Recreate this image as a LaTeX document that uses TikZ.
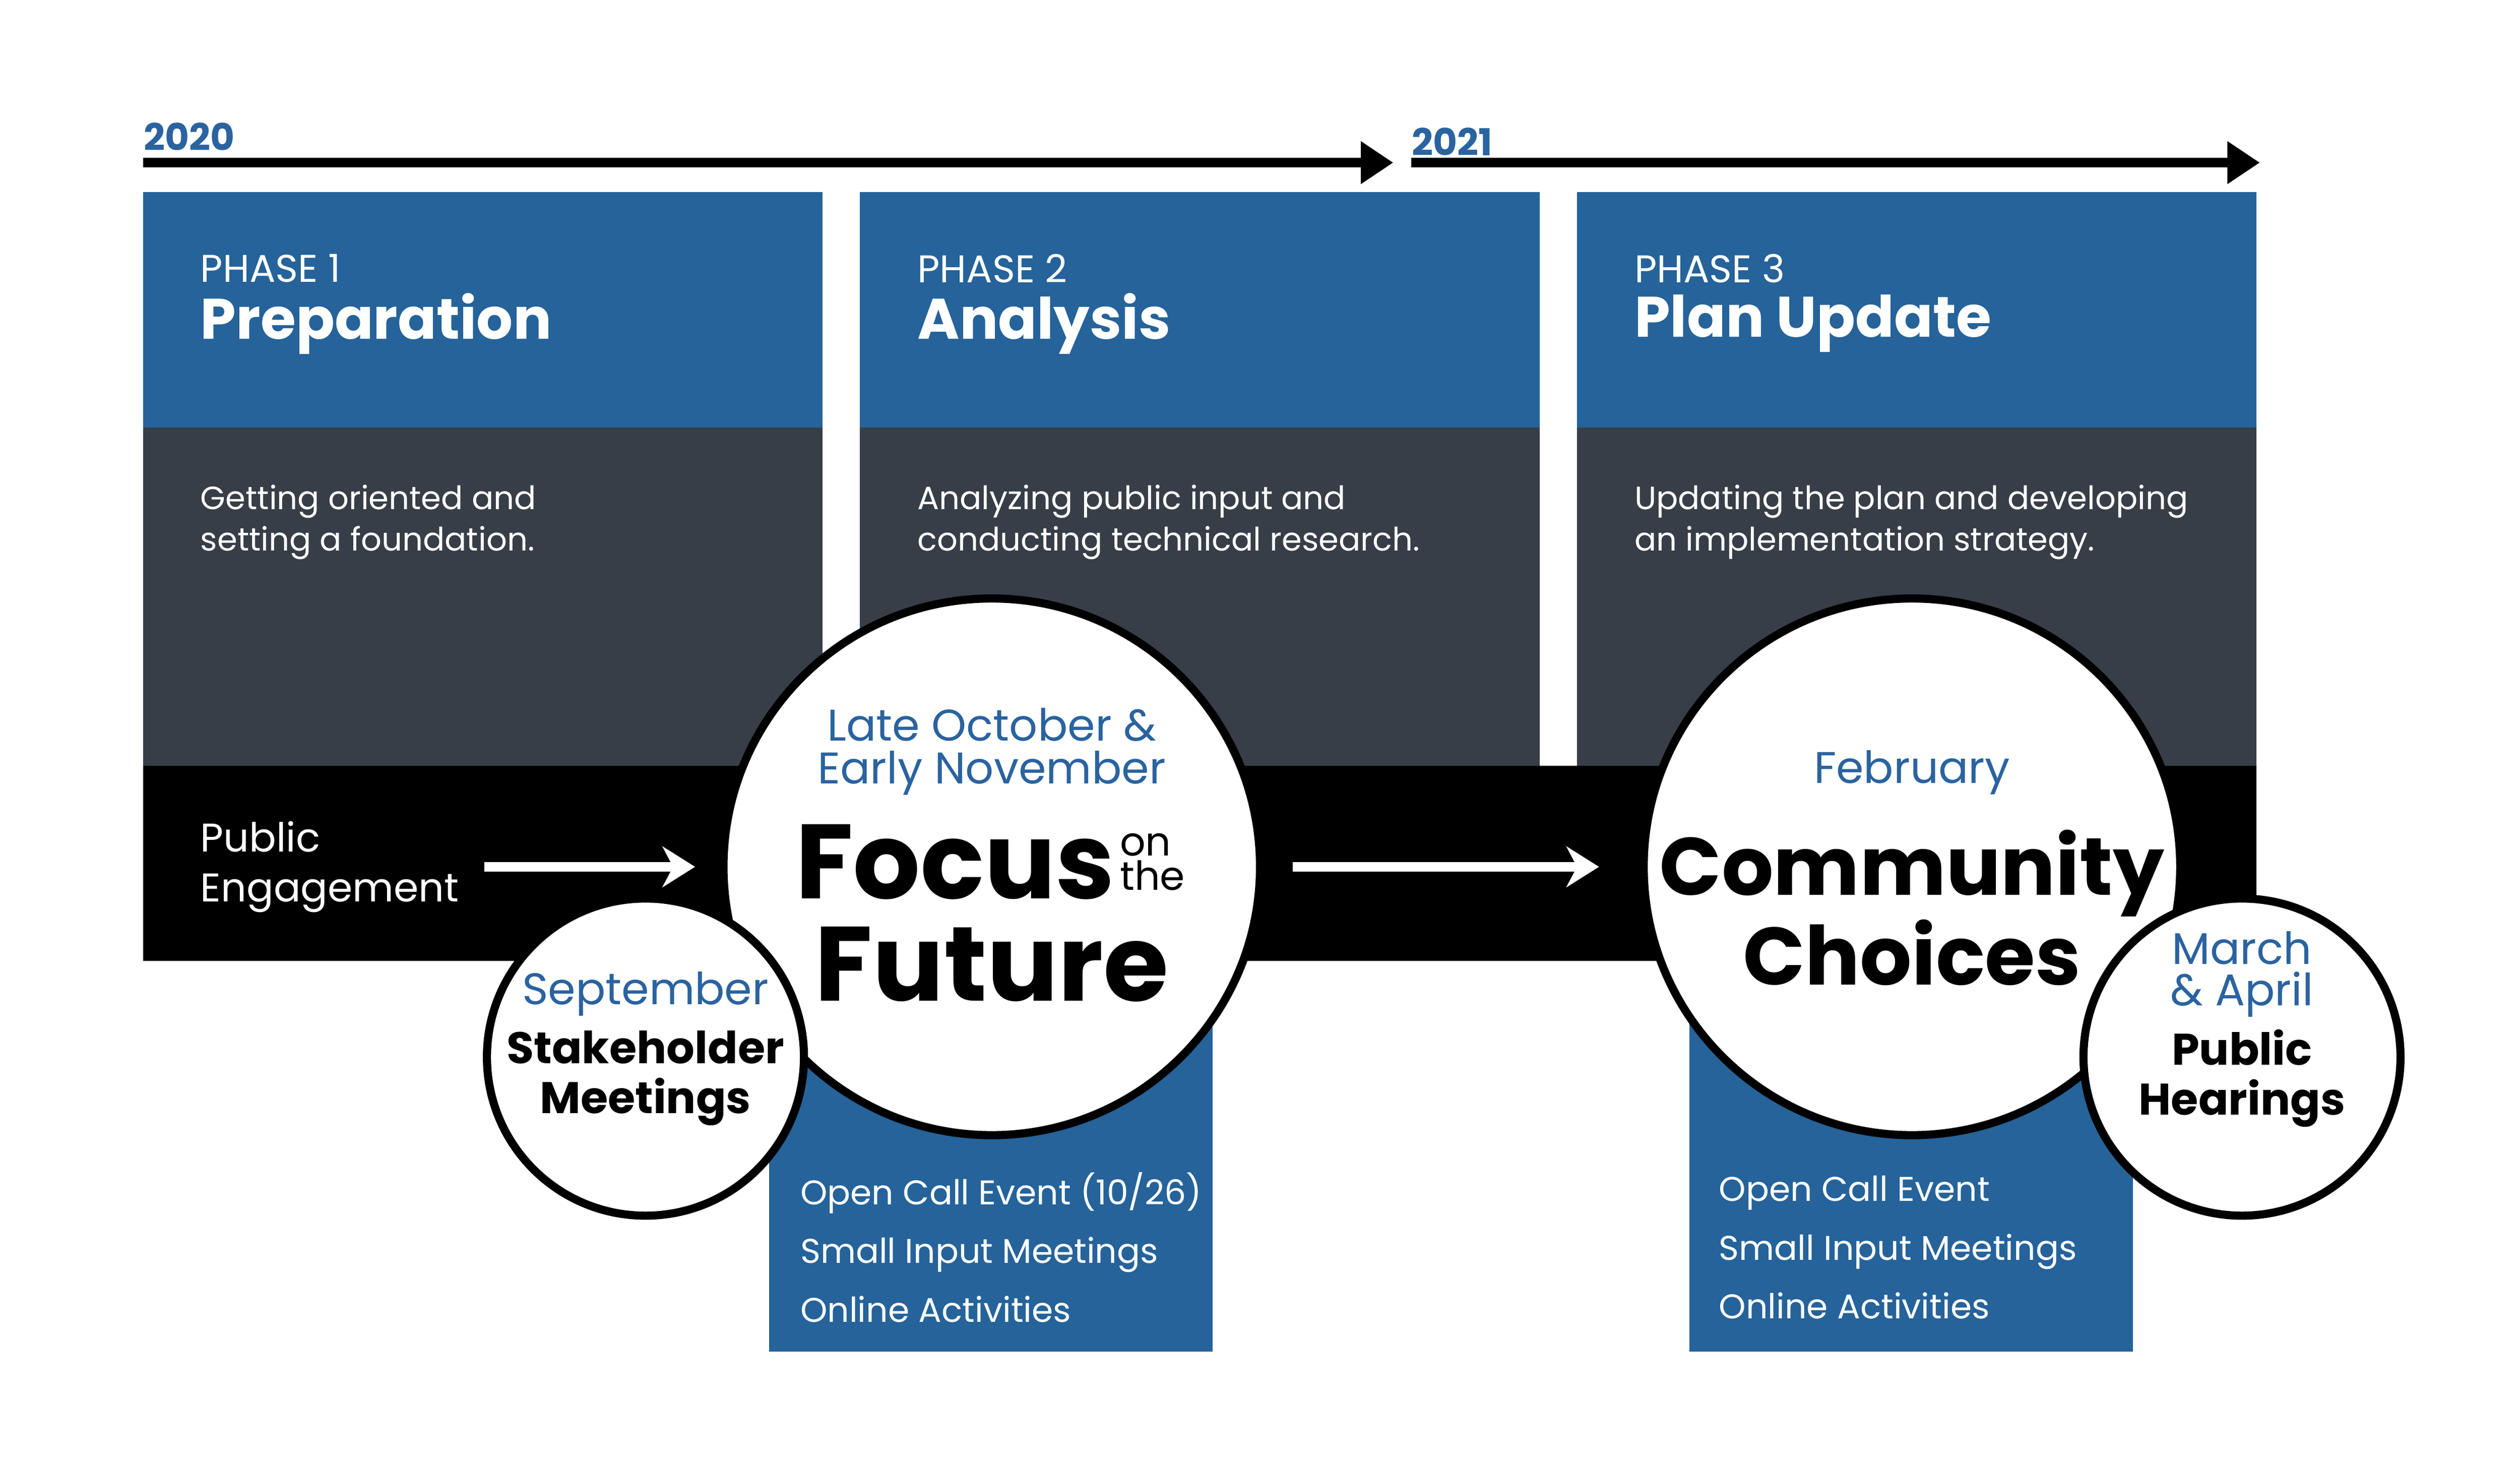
\documentclass[tikz,border=0pt]{standalone}
\usepackage{fontspec}
\setmainfont{Poppins}
\usetikzlibrary{arrows.meta,positioning}
\definecolor{phaseblue}{HTML}{25639A}
\definecolor{slate}{HTML}{373E47}
\definecolor{datetext}{HTML}{2A63A0}
\begin{document}
\begin{tikzpicture}[x=0.2mm,y=-0.2mm]

  \tikzset{band/.style={draw=none, anchor=north west, inner sep=0pt}, }
  \tikzset{phase text/.style={anchor=west, text=white, align=left, inner sep=0pt}, }
  \tikzset{big circle/.style={circle, draw, line width=1mm, fill=white,
  		minimum size=66mm, inner sep=0pt}, }
  \tikzset{small circle/.style={circle, draw, line width=1mm, fill=white,
  		minimum size=39mm, inner sep=0pt}, }
  \tikzset{linea/.style={-{Triangle[length=4mm,width=5mm]}, line width=1.2mm}, }
  \tikzset{flow/.style={white, line width=1.2mm, -{Stealth[length=4mm,width=5mm]}}, }

  \useasboundingbox[fill=white] (0,0) rectangle (1550,897);

  % timeline
  \node[anchor=south west, inner sep=0pt, text=datetext, font=\bfseries\fontsize{13}{16}\selectfont] (y1) at (88,93) {2020};
  \node[anchor=south west, inner sep=0pt, text=datetext, font=\bfseries\fontsize{13}{16}\selectfont] (y2) at (868,96) {2021};
  \coordinate (t1s) at (88,100);
  \coordinate (t1e) at (857,100);
  \coordinate (t2s) at (868,100);
  \coordinate (t2e) at (1390,100);
  \draw[linea] (t1s) -- (t1e);
  \draw[linea] (t2s) -- (t2e);

  % phase columns
  \foreach \x/\n/\t/\da/\db in {88/1/Preparation/Getting oriented and/setting a foundation.,
      529/2/Analysis/Analyzing public input and/conducting technical research.,
      970/3/Plan Update/Updating the plan and developing/an implementation strategy.}{
    \fill[phaseblue] (\x,118) rectangle ++(418,145);
    \fill[slate] (\x,263) rectangle ++(418,208);
    \node[phase text, font=\fontsize{13.5}{16}\selectfont] at (\x+35,165) {PHASE \n};
    \node[phase text, font=\bfseries\fontsize{20}{24}\selectfont] at (\x+35,199) {\t};
    \node[phase text, font=\fontsize{11.3}{14.5}\selectfont] at (\x+35,321) {\da\\\db};
  }
  \fill[black] (88,471) rectangle (1388,591);
  \node[phase text, font=\fontsize{14}{17.5}\selectfont] (pe) at (123,533) {Public\\Engagement};

  % activity boxes
  \fill[phaseblue] (473,590) rectangle (746,831);
  \fill[phaseblue] (1039,590) rectangle (1312,831);
  \node[phase text, font=\fontsize{12}{20.5}\selectfont] (act1) at (492,767) {Open Call Event (10/26)\\Small Input Meetings\\Online Activities};
  \node[phase text, font=\fontsize{12}{20.5}\selectfont] (act2) at (1057,767) {Open Call Event\\Small Input Meetings\\Online Activities};

  % events
  \node[big circle] (focus) at (610,533) {};
  \node[big circle] (choices) at (1176,533) {};
  \coordinate (a1s) at (298,533);
  \coordinate (a2s) at (795,533);
  \draw[flow] (a1s) -- ([xshift=-3mm]focus.west);
  \draw[flow] (a2s) -- ([xshift=-5mm]choices.west);

  \node[align=center, text=datetext, font=\fontsize{15.5}{15}\selectfont] at (610,462) {Late October \&\\Early November};
  \node[anchor=east, inner sep=0pt, font=\bfseries\fontsize{37}{37}\selectfont] (fc) at (686,530) {Focus};
  \node[anchor=west, inner sep=0pt, align=left, font=\fontsize{14}{13}\selectfont] at ([xshift=0.5mm]fc.east) {on\\[-1pt]the};
  \node[inner sep=0pt, font=\bfseries\fontsize{37}{37}\selectfont] at (610,593) {Future};

  \node[text=datetext, font=\fontsize{15.5}{15}\selectfont] at (1176,475) {February};
  \node[align=center, font=\bfseries\fontsize{28.5}{30}\selectfont] at (1176,558) {Community\\Choices};

  \node[small circle, align=center] (sept) at (397,650) {};
  \node[text=datetext, font=\fontsize{15.5}{15}\selectfont] at (397,611) {September};
  \node[align=center, font=\bfseries\fontsize{15.5}{17.5}\selectfont] at (397,663) {Stakeholder\\Meetings};

  \node[small circle] (hear) at (1379,650) {};
  \node[align=center, text=datetext, font=\fontsize{15.5}{14.5}\selectfont] at (1379,599) {March\\\& April};
  \node[align=center, font=\bfseries\fontsize{15.5}{17.5}\selectfont] at (1379,663) {Public\\Hearings};
\end{tikzpicture}
\end{document}
